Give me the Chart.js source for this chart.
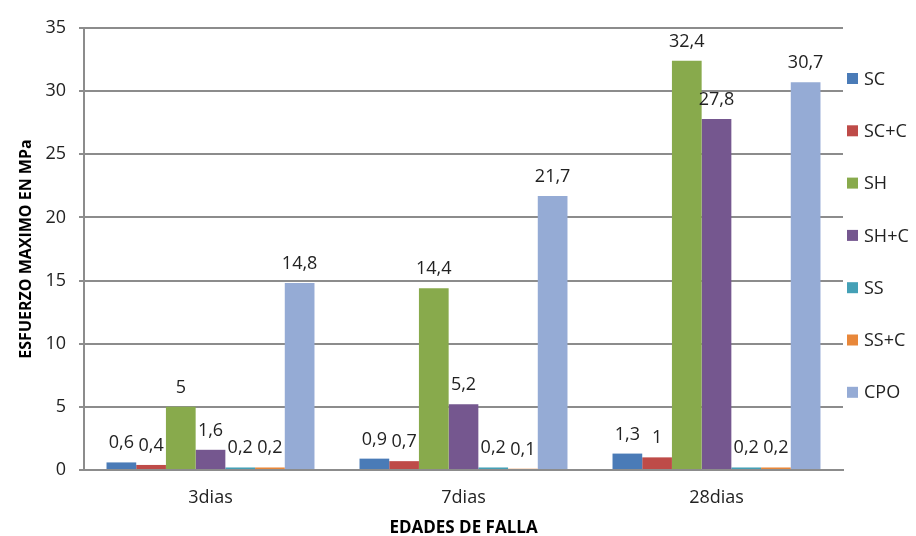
<!DOCTYPE html>
<html>
<head>
<meta charset="utf-8">
<script src="https://cdn.jsdelivr.net/npm/chart.js@4/dist/chart.umd.min.js"></script>
<style>
  html, body { margin: 0; padding: 0; background: #fff; }
  #wrap { width: 916px; height: 536px; position: relative; }
</style>
</head>
<body>
<div id="wrap"><canvas id="c" width="916" height="536"></canvas></div>
<script>
const categories = ['3dias', '7dias', '28dias'];
const seriesNames = ['SC', 'SC+C', 'SH', 'SH+C', 'SS', 'SS+C', 'CPO'];
const SC   = [0.6, 0.9, 1.3];
const SC_C = [0.4, 0.7, 1.0];
const SH   = [5.0, 14.4, 32.4];
const SH_C = [1.6, 5.2, 27.8];
const SS   = [0.2, 0.2, 0.2];
const SS_C = [0.2, 0.1, 0.2];
const CPO  = [14.8, 21.7, 30.7];
const yTicks = [0, 5, 10, 15, 20, 25, 30, 35];
const yTitle = 'ESFUERZO MAXIMO EN MPa';
const xTitle = 'EDADES DE FALLA';

const seriesValues = [SC, SC_C, SH, SH_C, SS, SS_C, CPO];
const colors = ['#4A7BB7', '#BE4B48', '#88AA4C', '#75578F', '#44A0B6', '#E8873A', '#95ABD5'];

const FONT = '"Open Sans", sans-serif';
const TEXT = '#222222';

const dataLabels = {
  id: 'dataLabels',
  afterDatasetsDraw(chart) {
    const ctx = chart.ctx;
    ctx.save();
    ctx.font = '18px ' + FONT;
    ctx.fillStyle = TEXT;
    ctx.textAlign = 'center';
    ctx.textBaseline = 'alphabetic';
    chart.data.datasets.forEach((ds, i) => {
      const meta = chart.getDatasetMeta(i);
      meta.data.forEach((el, j) => {
        const v = ds.data[j];
        ctx.fillText(String(v).replace('.', ','), el.x, el.y - 14);
      });
    });
    ctx.restore();
  }
};

const sideLegend = {
  id: 'sideLegend',
  afterDraw(chart) {
    const ctx = chart.ctx;
    const x0 = chart.chartArea.right + 4;
    ctx.save();
    ctx.font = '18px ' + FONT;
    ctx.textBaseline = 'middle';
    ctx.textAlign = 'left';
    chart.data.datasets.forEach((ds, i) => {
      const yc = 78.5 + i * 52.3;
      ctx.fillStyle = ds.backgroundColor;
      ctx.fillRect(x0, yc - 5.5, 11, 11);
      ctx.fillStyle = TEXT;
      ctx.fillText(ds.label, x0 + 17, yc + 1);
    });
    ctx.restore();
  }
};

new Chart(document.getElementById('c'), {
  type: 'bar',
  data: {
    labels: categories,
    datasets: seriesNames.map((name, i) => ({
      label: name,
      data: seriesValues[i],
      backgroundColor: colors[i],
      borderWidth: 0,
      categoryPercentage: 0.822,
      barPercentage: 1.0
    }))
  },
  options: {
    responsive: false,
    animation: false,
    devicePixelRatio: 1,
    layout: { padding: { top: 28, right: 73, bottom: 0, left: 0 } },
    plugins: {
      legend: { display: false },
      tooltip: { enabled: false }
    },
    scales: {
      x: {
        grid: { display: false, drawTicks: false },
        border: { display: true, color: '#8C8C8C', width: 2 },
        ticks: { color: TEXT, font: { family: FONT, size: 18 }, padding: 17 },
        title: { display: true, text: xTitle, color: '#000', font: { family: FONT, size: 17, weight: 'bold' }, padding: { top: 0, bottom: -2 } },
        afterFit(s) { s.height = 66; }
      },
      y: {
        min: 0, max: 35,
        afterBuildTicks(s) { s.ticks = yTicks.map(v => ({ value: v })); },
        grid: { color: '#8C8C8C', lineWidth: 2, drawTicks: true, tickLength: 5, tickColor: '#8C8C8C' },
        border: { display: true, color: '#8C8C8C', width: 2 },
        ticks: { color: TEXT, font: { family: FONT, size: 18 }, padding: 13 },
        title: { display: true, text: yTitle, color: '#000', font: { family: FONT, size: 16, weight: 'bold' }, padding: { top: 17, bottom: 0 } },
        afterFit(s) { s.width = 84; }
      }
    }
  },
  plugins: [dataLabels, sideLegend]
});
</script>
</body>
</html>
